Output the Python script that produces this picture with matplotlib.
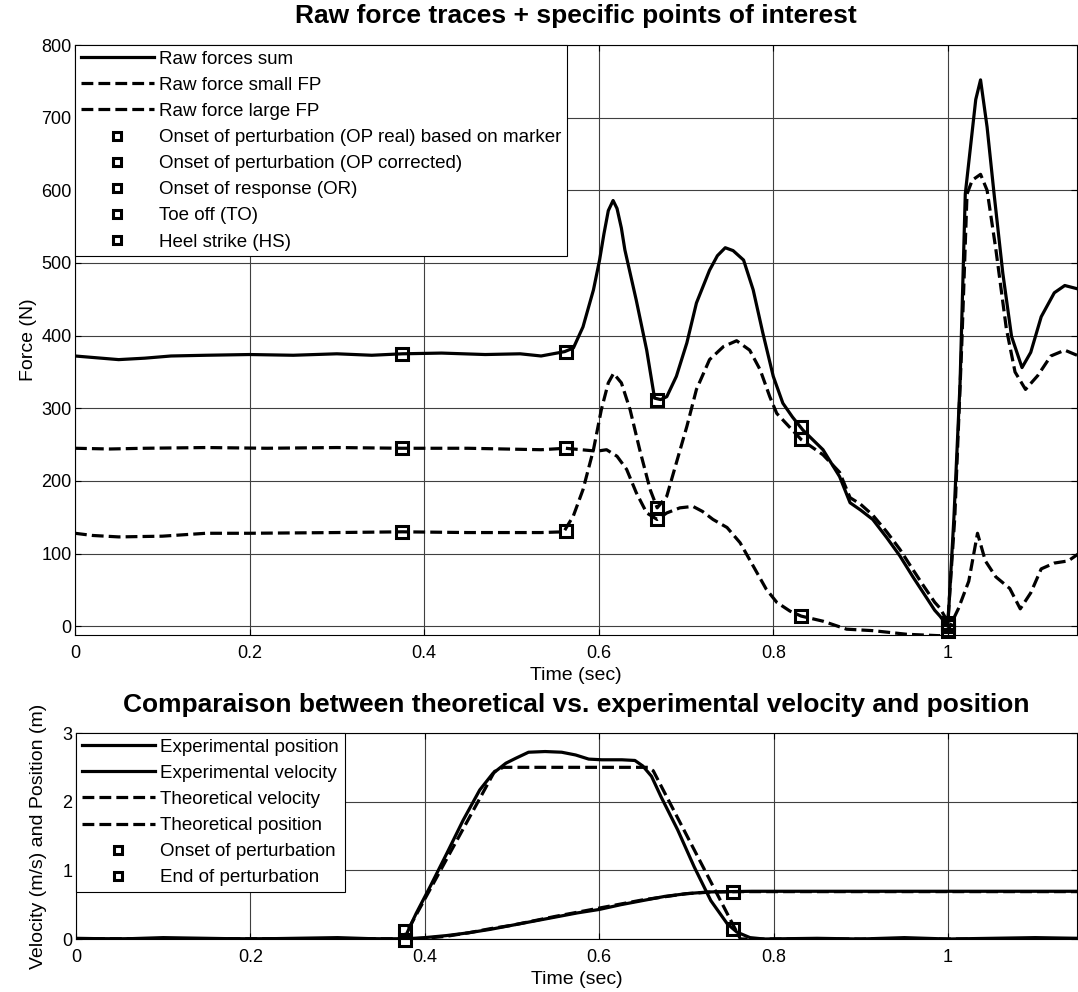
import matplotlib
matplotlib.use("Agg")
import matplotlib.pyplot as plt

plt.rcParams['font.family'] = ['Liberation Sans', 'DejaVu Sans']

# ---------------- Top panel data (time in s, force in N) ----------------
t_sum = [0.000, 0.020, 0.050, 0.080, 0.110, 0.150, 0.200, 0.250, 0.300, 0.340,
         0.375, 0.420, 0.470, 0.510, 0.534, 0.561, 0.571, 0.582, 0.594, 0.601,
         0.606, 0.611, 0.6165, 0.621, 0.626, 0.630, 0.643, 0.655, 0.664, 0.671,
         0.678, 0.689, 0.701, 0.712, 0.727, 0.736, 0.745, 0.754, 0.766, 0.777,
         0.788, 0.800, 0.811, 0.822, 0.834, 0.857, 0.876, 0.888, 0.900, 0.914,
         0.930, 0.945, 0.960, 0.972, 0.985, 0.991, 1.000, 1.007, 1.014, 1.020,
         1.026, 1.032, 1.0375, 1.045, 1.053, 1.063, 1.073, 1.085, 1.095, 1.107,
         1.122, 1.134, 1.150]
f_sum = [372, 370, 367, 369, 372, 373, 374, 373, 375, 373,
         375, 376, 374, 375, 372, 378, 383, 412, 463, 504,
         540, 572, 586, 575, 548, 518, 449, 380, 314, 312,
         316, 344, 390, 445, 490, 510, 521, 517, 504, 463,
         404, 344, 307, 288, 270, 243, 206, 170, 160, 147,
         122, 97, 68, 46, 22, 14, 0, 150, 334, 595,
         660, 725, 752, 687, 595, 486, 399, 356, 377, 426,
         459, 469, 464]

t_small = [0.000, 0.040, 0.080, 0.150, 0.220, 0.300, 0.375, 0.450, 0.534, 0.562,
           0.598, 0.609, 0.621, 0.632, 0.643, 0.655, 0.667, 0.678, 0.693, 0.708,
           0.719, 0.731, 0.747, 0.762, 0.777, 0.792, 0.804, 0.819, 0.832, 0.857,
           0.884, 0.914, 0.953, 0.991, 1.000, 1.012, 1.024, 1.034, 1.043, 1.055,
           1.071, 1.083, 1.095, 1.107, 1.122, 1.138, 1.150]
f_small = [245, 244, 245, 246, 245, 246, 245, 245, 243, 245,
           241, 243, 234, 216, 184, 156, 147, 156, 163, 165,
           158, 147, 136, 115, 83, 51, 33, 21, 14, 7,
           -4, -6, -11, -13, -6, 24, 62, 128, 90, 68,
           52, 24, 46, 79, 87, 90, 100]

t_large = [0.000, 0.020, 0.050, 0.100, 0.150, 0.200, 0.300, 0.375, 0.450, 0.534,
           0.560, 0.571, 0.582, 0.594, 0.603, 0.611, 0.617, 0.626, 0.636, 0.647,
           0.659, 0.667, 0.678, 0.689, 0.701, 0.712, 0.727, 0.743, 0.758, 0.773,
           0.785, 0.796, 0.804, 0.818, 0.832, 0.857, 0.876, 0.888, 0.900, 0.914,
           0.930, 0.945, 0.960, 0.972, 0.985, 0.991, 1.000, 1.008, 1.016, 1.022,
           1.028, 1.0375, 1.045, 1.055, 1.067, 1.077, 1.089, 1.103, 1.118, 1.134,
           1.150]
f_large = [128, 125, 123, 124, 128, 128, 129, 130, 129, 129,
           130, 152, 188, 243, 298, 335, 348, 335, 298, 243,
           188, 163, 179, 225, 275, 326, 367, 385, 393, 380,
           353, 316, 293, 275, 257, 236, 212, 177, 168, 153,
           130, 106, 78, 56, 33, 25, 6, 150, 388, 595,
           614, 622, 600, 519, 410, 350, 326, 345, 372, 380,
           372]

# points of interest (time, force on each trace)
op_real_t = [0.375, 0.375, 0.375]
op_real_f = [375, 245, 130]
op_corr_t = [0.562, 0.562, 0.562]
op_corr_f = [378, 245, 131]
or_t = [0.667, 0.667, 0.667]
or_f = [312, 163, 147]
to_t = [0.832, 0.832, 0.832]
to_f = [274, 258, 14]
hs_t = [1.000, 1.000, 1.000]
hs_f = [0, 4, -6]

# ---------------- Bottom panel data ----------------
t_exp_vel = [0.000, 0.050, 0.100, 0.150, 0.200, 0.250, 0.300, 0.350, 0.370, 0.379,
             0.390, 0.406, 0.425, 0.444, 0.463, 0.478, 0.493, 0.504, 0.519, 0.538,
             0.557, 0.573, 0.588, 0.603, 0.626, 0.641, 0.650, 0.660, 0.671, 0.690,
             0.709, 0.728, 0.747, 0.758, 0.773, 0.789, 0.850, 0.900, 0.950, 1.000,
             1.050, 1.100, 1.150]
v_exp_vel = [0.01, 0.00, 0.02, 0.01, 0.00, 0.01, 0.02, 0.00, 0.00, 0.07,
             0.37, 0.76, 1.24, 1.73, 2.17, 2.41, 2.56, 2.63, 2.72, 2.73,
             2.72, 2.68, 2.62, 2.61, 2.61, 2.60, 2.52, 2.37, 2.07, 1.59,
             1.05, 0.56, 0.22, 0.10, 0.02, 0.00, 0.01, 0.00, 0.02, 0.00,
             0.01, 0.02, 0.01]

t_exp_pos = [0.000, 0.200, 0.375, 0.400, 0.425, 0.450, 0.475, 0.500, 0.525, 0.550,
             0.575, 0.600, 0.625, 0.650, 0.675, 0.700, 0.725, 0.750, 0.775, 0.800,
             1.150]
v_exp_pos = [0.00, 0.00, 0.00, 0.02, 0.05, 0.09, 0.14, 0.20, 0.26, 0.32,
             0.38, 0.43, 0.50, 0.56, 0.62, 0.66, 0.685, 0.69, 0.695, 0.695,
             0.695]

t_th_vel = [0.000, 0.375, 0.480, 0.490, 0.656, 0.662, 0.762, 1.150]
v_th_vel = [0.00, 0.00, 2.44, 2.50, 2.50, 2.45, 0.00, 0.00]

t_th_pos = [0.000, 0.375, 0.400, 0.425, 0.450, 0.475, 0.500, 0.550, 0.600, 0.650,
            0.700, 0.730, 0.760, 1.150]
v_th_pos = [0.00, 0.00, 0.01, 0.04, 0.09, 0.15, 0.20, 0.33, 0.45, 0.57,
            0.66, 0.685, 0.69, 0.69]

onset_t = [0.377, 0.377]
onset_v = [0.11, -0.02]
end_t = [0.754, 0.753]
end_v = [0.15, 0.68]

# ---------------- Figure ----------------
W, H = 1078, 992
fig = plt.figure(figsize=(W / 100, H / 100), dpi=100)

def frac(l, t, r, b):
    return [l / W, 1 - b / H, (r - l) / W, (b - t) / H]

ax1 = fig.add_axes(frac(75, 45, 1077, 635))
ax2 = fig.add_axes(frac(76, 733, 1077, 939))

LW = 2.3
MS = 9
mk = dict(linestyle='none', marker='s', markersize=MS, markerfacecolor='none',
          markeredgecolor='black', markeredgewidth=2.2, clip_on=False)

ax1.plot(t_sum, f_sum, '-', color='black', lw=LW, label='Raw forces sum')
ax1.plot(t_small, f_small, '--', color='black', lw=LW, label='Raw force small FP')
ax1.plot(t_large, f_large, '--', color='black', lw=LW, label='Raw force large FP')
ax1.plot(op_real_t, op_real_f, label='Onset of perturbation (OP real) based on marker', **mk)
ax1.plot(op_corr_t, op_corr_f, label='Onset of perturbation (OP corrected)', **mk)
ax1.plot(or_t, or_f, label='Onset of response (OR)', **mk)
ax1.plot(to_t, to_f, label='Toe off (TO)', **mk)
ax1.plot(hs_t, hs_f, label='Heel strike (HS)', **mk)

ax2.plot(t_exp_pos, v_exp_pos, '-', color='black', lw=LW, label='Experimental position')
ax2.plot(t_exp_vel, v_exp_vel, '-', color='black', lw=LW, label='Experimental velocity')
ax2.plot(t_th_vel, v_th_vel, '--', color='black', lw=LW, label='Theoretical velocity')
ax2.plot(t_th_pos, v_th_pos, '--', color='black', lw=LW, label='Theoretical position')
ax2.plot(onset_t, onset_v, label='Onset of perturbation', **mk)
ax2.plot(end_t, end_v, label='End of perturbation', **mk)

xt = [0, 0.2, 0.4, 0.6, 0.8, 1.0]
xtl = ['0', '0.2', '0.4', '0.6', '0.8', '1']
for ax in (ax1, ax2):
    ax.set_xlim(0, 1.148)
    ax.set_xticks(xt)
    ax.set_xticklabels(xtl)
    ax.grid(True, color='0.25', lw=0.8, ls='-')
    ax.set_axisbelow(True)
    ax.tick_params(direction='in', length=4, width=0.8, top=True, right=True,
                   labelsize=13)
    ax.tick_params(axis='x', pad=7)
    ax.tick_params(axis='y', pad=2.5)
    for s in ax.spines.values():
        s.set_linewidth(0.8)
    ax.set_xlabel('Time (sec)', fontsize=14, labelpad=4)

ax1.set_ylim(-12, 800)
ax1.set_yticks(range(0, 801, 100))
ax1.set_ylabel('Force (N)', fontsize=14)
ax1.yaxis.set_label_coords(-0.038, 0.5)
ax2.set_ylim(0, 3)
ax2.set_yticks([0, 1, 2, 3])
ax2.set_ylabel('Velocity (m/s) and Position (m)', fontsize=14)
ax2.yaxis.set_label_coords(-0.029, 0.5)

leg_kw = dict(loc='upper left', bbox_to_anchor=(0, 1), borderaxespad=0,
              fancybox=False, edgecolor='black', framealpha=1, fontsize=13.5,
              handlelength=3.9, handletextpad=0.3, labelspacing=0.48,
              borderpad=0.3, markerscale=0.65)
l1 = ax1.legend(**leg_kw)
l2 = ax2.legend(**leg_kw)
for l in (l1, l2):
    l.get_frame().set_linewidth(0.8)

fig.text(576 / W, 1 - 16 / H, 'Raw force traces + specific points of interest',
         ha='center', va='center', fontsize=19, fontweight='bold')
fig.text(576 / W, 1 - 705 / H,
         'Comparaison between theoretical vs. experimental velocity and position',
         ha='center', va='center', fontsize=19, fontweight='bold')

fig.savefig('out.png', dpi=100)
